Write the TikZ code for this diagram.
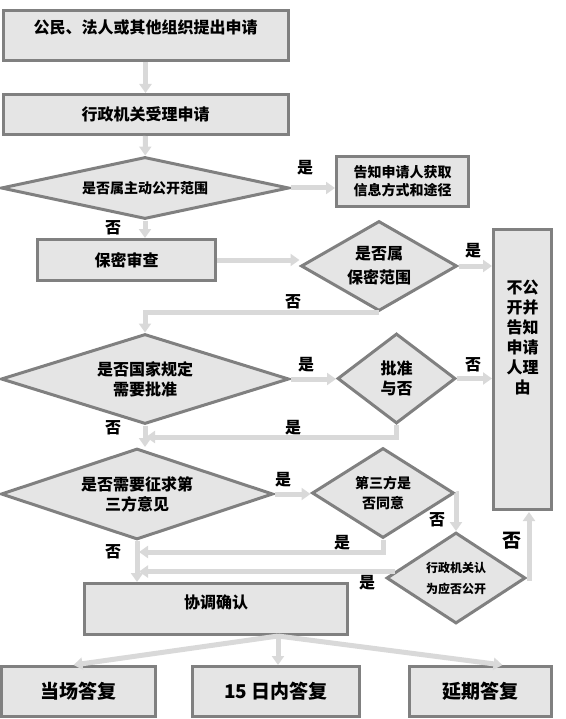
\documentclass[tikz,border=0pt]{standalone}
\usepackage{fontspec}
\newfontfamily\cjk{Noto Sans CJK SC}
\usetikzlibrary{arrows.meta,positioning,calc,shapes.geometric}

\tikzset{
  box/.style={draw=black!50, fill=black!10, line width=3pt, inner sep=0pt, align=center,
    font=\cjk\bfseries\fontsize{16}{20}\selectfont},
  decide/.style={box, diamond},
  flow/.style={draw=black!15, line width=5pt, -{Triangle[width=12pt,length=9pt]}},
  tag/.style={inner sep=0pt, font=\cjk\bfseries\fontsize{16}{16}\selectfont},
}

\begin{document}
\begin{tikzpicture}[x=1pt, y=-1pt]
    \useasboundingbox (0,0) rectangle (565,719);

    % Main column
    \node[box, minimum width=285pt, minimum height=50pt, text depth=18pt] (apply) at (145.5,35.5) {公民、法人或其他组织提出申请};
    \node[box, minimum width=285pt, minimum height=40pt] (accept) at (145.5,114.5) {行政机关受理申请};
    \node[decide, minimum width=288pt, minimum height=62pt, shape aspect=4,
      font=\cjk\bfseries\fontsize{14}{18}\selectfont] (active) at (145,188) {是否属主动公开范围};
    \node[box, minimum width=132pt, minimum height=50pt,
      font=\cjk\bfseries\fontsize{14}{18}\selectfont] (guide) at (402.5,181.5) {告知申请人获取\\信息方式和途径};
    \node[box, minimum width=178pt, minimum height=41pt] (secret) at (126.5,260) {保密审查};
    \node[decide, minimum width=156pt, minimum height=90pt, shape aspect=1.7,
      font=\cjk\bfseries\fontsize{16}{24}\selectfont] (isecret) at (379,266) {是否属\\保密范围};
    \node[box, minimum width=58pt, minimum height=280pt, text depth=65pt] (refuse) at (522.5,369.5) {不公\\开并\\告知\\申请\\人理\\由};

    % Approval and third party
    \node[decide, minimum width=288pt, minimum height=90pt, shape aspect=3] (needok) at (145,379) {是否国家规定\\需要批准};
    \node[decide, minimum width=118pt, minimum height=90pt, shape aspect=1.3] (okay) at (396.5,378.5) {批准\\与否};
    \node[decide, minimum width=272pt, minimum height=91pt, shape aspect=3] (third) at (137,494) {是否需要征求第\\三方意见};
    \node[decide, minimum width=142pt, minimum height=90pt, shape aspect=1.6,
      font=\cjk\bfseries\fontsize{14}{20}\selectfont] (agree) at (383,493) {第三方是\\否同意};
    \node[decide, minimum width=139pt, minimum height=91pt, shape aspect=1.5,
      font=\cjk\bfseries\fontsize{12}{21}\selectfont] (judge) at (456,578) {行政机关认\\为应否公开};
    \node[box, minimum width=263pt, minimum height=51pt, text depth=15pt] (confirm) at (216,609) {协调确认};

    % Replies
    \node[box, minimum width=154pt, minimum height=50pt, font=\cjk\bfseries\fontsize{19}{19}\selectfont] (now) at (78.5,691.5) {当场答复};
    \node[box, minimum width=167pt, minimum height=50pt, font=\cjk\bfseries\fontsize{19}{19}\selectfont] (days) at (276,691.5) {15 日内答复};
    \node[box, minimum width=142pt, minimum height=50pt, font=\cjk\bfseries\fontsize{19}{19}\selectfont] (later) at (480.5,691.5) {延期答复};

    % Junctions
    \coordinate (j1) at (146,437);
    \coordinate (j2) at (139,552);
    \coordinate (j3) at (139,572);
    \coordinate (up) at (529,512);
    \coordinate (fan) at (278,636);

    % Connectors
    \draw[flow] (apply) -- (accept);
    \draw[flow] (accept) -- (active);
    \draw[flow] (active.east) -- (active.east -| guide.west);
    \draw[flow] (active.south) -- (active.south |- secret.north);
    \draw[flow] (secret.east) -- (secret.east -| isecret.west);
    \draw[flow] (isecret.east) -- (isecret.east -| refuse.west);
    \draw[flow] (isecret.south) -| (needok.north);
    \draw[flow] (needok.east) -- (needok.east -| okay.west);
    \draw[flow] (okay.east) -- (okay.east -| refuse.west);
    \draw[flow] (okay.south) |- (j1);
    \draw[flow] (needok.south) -- (needok.south |- third.north);
    \draw[flow] (third.east) -- (third.east -| agree.west);
    \draw[flow] (agree.east) -| (judge.north);
    \draw[flow] (agree.south) |- (j2);
    \draw[flow] (judge.174) -- (judge.174 -| j3);
    \draw[flow] (third.south) -- (third.south |- confirm.north);
    \draw[flow] (judge.east) -| (up);
    \draw[flow] (fan) -- ($(now.north)+(-5,0)$);
    \draw[flow] (fan) -- (fan |- days.north);
    \draw[flow] (fan) -- ($(later.north)+(22,0)$);

    % Labels
    \node[tag] (yes1) at (305,168) {是};
    \node[tag] (no1) at (113,228) {否};
    \node[tag] (yes2) at (473,251) {是};
    \node[tag] (no2) at (293,302) {否};
    \node[tag] (yes3) at (306,365) {是};
    \node[tag] (no3) at (473,365) {否};
    \node[tag] (yes4) at (293,428) {是};
    \node[tag] (no4) at (113,428) {否};
    \node[tag] (yes5) at (283,480) {是};
    \node[tag] (no5) at (437,520) {否};
    \node[tag] (yes6) at (342,543) {是};
    \node[tag] (no6) at (113,552) {否};
    \node[tag] (yes7) at (367,583) {是};
    \node[tag, font=\cjk\bfseries\fontsize{19}{19}\selectfont] (no7) at (512,541) {否};
\end{tikzpicture}
\end{document}
